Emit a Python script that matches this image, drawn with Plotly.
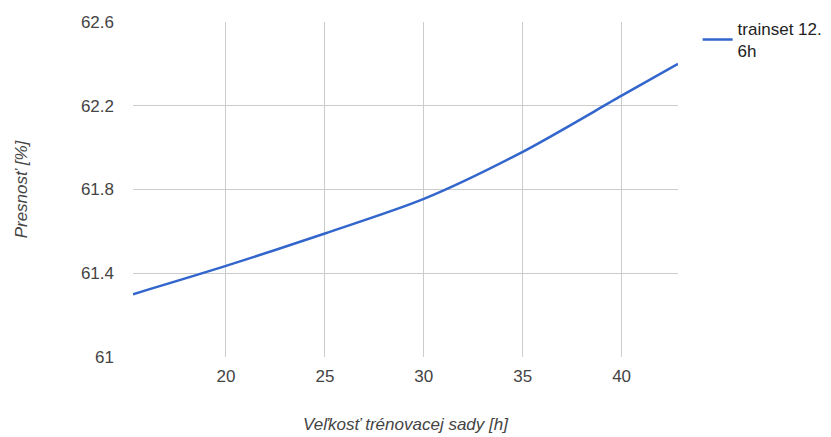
import plotly.graph_objects as go

# Data
x_hours = [15.3, 20, 25, 30, 35, 40, 42.85]
accuracy = [61.30, 61.435, 61.59, 61.755, 61.98, 62.248, 62.40]
series_name = "trainset 12.<br>6h"
x_ticks = [20, 25, 30, 35, 40]
y_ticks = [61, 61.4, 61.8, 62.2, 62.6]
y_tick_labels = ["61", "61.4", "61.8", "62.2", "62.6"]

FONT = "Liberation Sans, Arial, sans-serif"

fig = go.Figure()
fig.add_trace(go.Scatter(
    x=x_hours, y=accuracy, mode="lines", name=series_name,
    line=dict(color="#3366cc", width=2.5, shape="spline", smoothing=0.8),
    showlegend=True,
))

fig.update_layout(
    width=831, height=437,
    margin=dict(l=133, r=153, t=22, b=80, autoexpand=False),
    paper_bgcolor="white", plot_bgcolor="white",
    font=dict(family=FONT, size=17, color="#444444"),
    showlegend=True,
    legend=dict(x=1.036, xanchor="left", y=1.033, yanchor="top",
                font=dict(family=FONT, size=17, color="#222222"),
                bgcolor="rgba(0,0,0,0)", tracegroupgap=0),
    xaxis=dict(
        range=[15.3, 42.85], tickvals=x_ticks, showgrid=True, automargin=False,
        gridcolor="#cccccc", gridwidth=1, zeroline=False, showline=False,
        ticks="", ticklabelstandoff=7, tickfont=dict(size=17, color="#444444"),
        title=dict(text="Veľkosť trénovacej sady [h]",
                   font=dict(family=FONT, size=17, color="#444444", style="italic"),
                   standoff=33),
    ),
    yaxis=dict(
        range=[61, 62.6], tickvals=y_ticks, ticktext=y_tick_labels, automargin=False,
        showgrid=True, gridcolor="#cccccc", gridwidth=1, zeroline=False,
        showline=False, ticks="", ticklabelstandoff=18,
        tickfont=dict(size=17, color="#444444"),
        title=dict(text="Presnosť [%]",
                   font=dict(family=FONT, size=17, color="#444444", style="italic"),
                   standoff=48),
    ),
)

fig.write_html("out.html")
